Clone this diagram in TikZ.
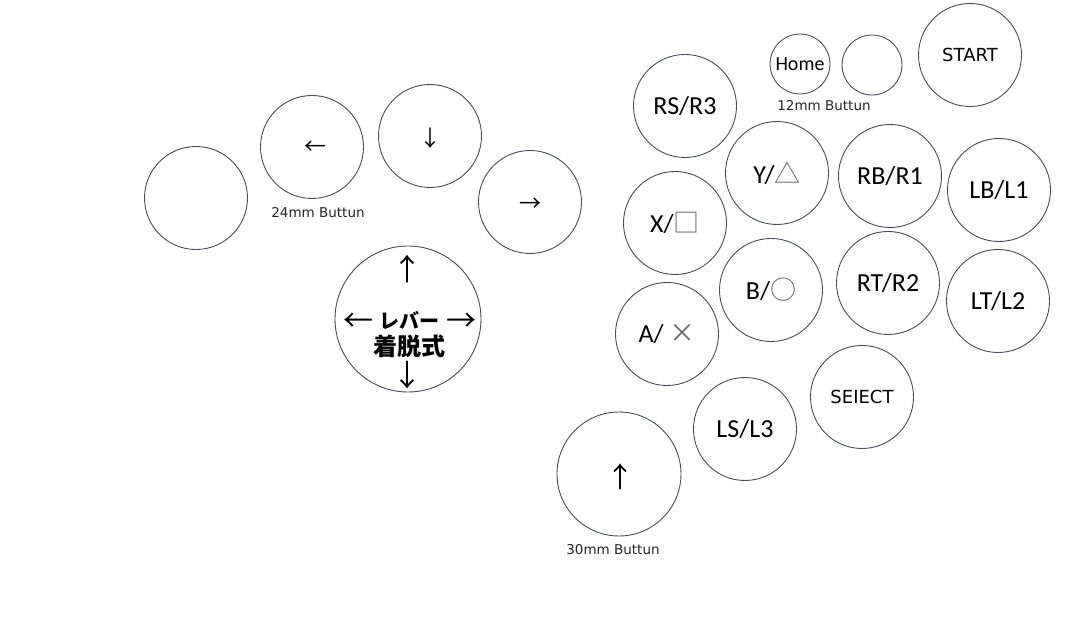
\documentclass[tikz,border=0pt]{standalone}
\usepackage{fontspec}
\setmainfont{Carlito}
\newfontfamily\dejavu{DejaVu Sans}
\newfontfamily\cjk{Noto Sans CJK JP}
\definecolor{rim}{RGB}{72,76,90}
\definecolor{symgray}{RGB}{105,105,105}
\newcommand{\fs}[1]{\fontsize{#1}{#1}\selectfont}
\newcommand{\sym}[1]{\textcolor{symgray}{\cjk #1}}

\begin{document}
\begin{tikzpicture}[x=1pt,y=-1pt,
	btn/.style={circle, draw=rim, line width=0.9pt, minimum size=103pt, inner sep=0pt, font=\fs{26}},
	smallbtn/.style={btn, minimum size=60pt, font=\fs{20}},
	capt/.style={font=\dejavu\fs{13.5}, text=black!85},
	arrtext/.style={font=\cjk\fs{22}},
	lvtext/.style={font=\cjk\bfseries\fs{24}, inner sep=0pt},
	lvarrow/.style={font=\cjk\fs{30}, inner sep=0pt}]
		\fill[white] (0,0) rectangle (1080,620);
		\useasboundingbox (0,0) rectangle (1080,620);
		\begin{scope}
			% 24mm
			\node[btn] (blank24) at (196,198) {};
			\node[btn] (left) at (312,147) {};
			\node[btn] (down) at (430,136) {};
			\node[btn] (right) at (530,202) {};
			\node[arrtext] (lefttxt) at (315,148) {←};
			\node[arrtext] (downtxt) at (430,138) {↓};
			\node[arrtext] (righttxt) at (530,205) {→};
			\node[capt] (cap24) at (318,213) {24mm Buttun};

			% leva
			\node[btn, minimum size=146pt] (lever) at (408,319) {};
			\node[lvarrow] (lvup) at (407,269) {↑};
			\node[lvarrow] (lvleft) at (358,322) {←};
			\node[lvtext, font=\cjk\bfseries\fs{20}] (lvname) at (409,321) {レバー};
			\node[lvarrow] (lvright) at (461,322) {→};
			\node[lvtext] (lvkind) at (409,346) {着脱式};
			\node[lvarrow] (lvdown) at (407,375) {↓};

			% 12mm
			\node[smallbtn] (home) at (800,64) {Home};
			\node[smallbtn] (blank12) at (872,65) {};
			\node[capt] (cap12) at (824,106) {12mm Buttun};

			% 24mm, destra
			\node[btn, font=\dejavu\fs{18}] (start) at (970,55) {START};
			\node[btn] (rs) at (685,106) {RS/R3};
			\node[btn] (y) at (777,173) {Y/\sym{△}};
			\node[btn] (rb) at (890,176) {RB/R1};
			\node[btn] (lb) at (999,190) {LB/L1};
			\node[btn] (x) at (675,223) {X/\sym{□}};
			\node[btn] (b) at (771,290) {B/\sym{○}};
			\node[btn] (rt) at (888,283) {RT/R2};
			\node[btn] (lt) at (998,301) {LT/L2};
			\node[btn] (a) at (667,334) {A/ \sym{×}};
			\node[btn, font=\dejavu\fs{18}] (select) at (862,397) {SEIECT};
			\node[btn] (ls) at (745,429) {LS/L3};

			% 30mm
			\node[btn, minimum size=124pt] (up) at (619,474) {};
			\node[arrtext, font=\cjk\fs{28}] (uptxt) at (620,477) {↑};
			\node[capt] (cap30) at (613,550) {30mm Buttun};
		\end{scope}
	\end{tikzpicture}
\end{document}
